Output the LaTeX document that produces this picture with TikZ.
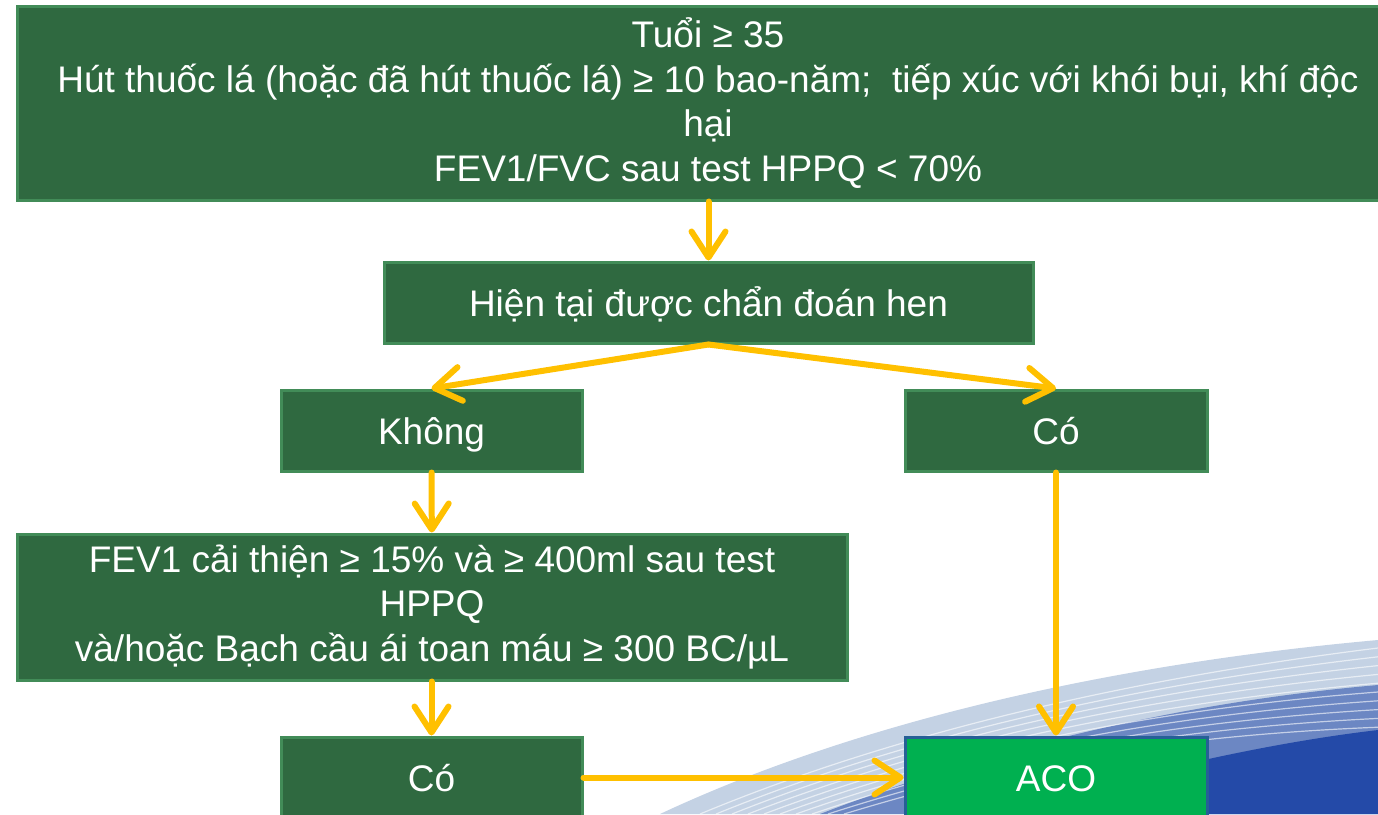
\documentclass[tikz,border=0pt]{standalone}
\usepackage{fontspec}
\setmainfont{Liberation Sans}
\usetikzlibrary{arrows.meta,positioning}
\definecolor{boxgreen}{RGB}{47,105,64}
\definecolor{boxedge}{RGB}{66,140,88}
\definecolor{acogreen}{RGB}{0,176,80}
\definecolor{acoedge}{RGB}{38,96,150}
\definecolor{arrowgold}{RGB}{255,192,0}
\definecolor{wavedark}{RGB}{36,74,168}
\definecolor{wavelight}{RGB}{196,210,228}

\begin{document}
\begin{tikzpicture}
        [
            x=1pt, y=-1pt,
            line/.style = {
                draw=arrowgold,
                line width=6pt,
                line cap=round,
                -{Straight Barb[length=26pt,width=34pt,line cap=round,round]}
            },
            block/.style = {
                rectangle,
                draw=boxedge,
                line width=3pt,
                fill=boxgreen,
                text=white,
                align=center,
                inner sep=0pt,
                font=\fontsize{37}{44.5}\selectfont
            },
            oneline/.style = {
                block,
                text height=31pt,
                text depth=4pt
            },
            result/.style = {
                oneline,
                draw=acoedge,
                fill=acogreen
            },
            waveline/.style = {
                draw=white,
                line width=1.2pt,
                opacity=0.6
            }
        ]
        \useasboundingbox (0,0) rectangle (1378,814);

        % background swoosh
        \fill[wavelight] (660,814) .. controls (850,725) and (1100,665) .. (1378,640) -- (1378,814) -- cycle;
        \fill[wavedark!55!wavelight] (820,814) .. controls (960,760) and (1150,705) .. (1378,685) -- (1378,814) -- cycle;
        \fill[wavedark] (1000,814) .. controls (1110,780) and (1250,745) .. (1378,730) -- (1378,814) -- cycle;
        \foreach \d in {0,8,...,72} {
            \path[waveline] (700+\d*2,814) .. controls (890+\d,735+\d*0.6) and (1120,680+\d*0.8) .. (1378,648+\d*1.1);
        }

        \node[block,minimum width=1382pt,minimum height=194pt] (entry) at (708,103)
            {Tuổi ≥ 35\\ Hút thuốc lá (hoặc đã hút thuốc lá) ≥ 10 bao-năm;~ tiếp xúc với khói bụi, khí độc\\ hại\\ FEV1/FVC sau test HPPQ < 70\%};
        \node[oneline,minimum width=649pt,minimum height=81pt] (asthma) at (708.5,302.5) {Hiện tại được chẩn đoán hen};
        \node[oneline,minimum width=301pt,minimum height=81pt] (khong) at (431.5,430.5) {Không};
        \node[oneline,minimum width=302pt,minimum height=81pt] (coright) at (1056,430.5) {Có};
        \node[block,minimum width=830pt,minimum height=146pt] (reversib) at (432,607)
            {FEV1 cải thiện ≥ 15\% và ≥ 400ml sau test\\ HPPQ\\ và/hoặc Bạch cầu ái toan máu ≥ 300 BC/µL};
        \node[oneline,minimum width=301pt,minimum height=81pt] (coleft) at (431.5,777.5) {Có};
        \node[result,minimum width=302pt,minimum height=81pt] (aco) at (1056,777.5) {ACO};

        \path[line] (entry.south -| asthma) -- (asthma);
        \path[line] (asthma.south) -- (khong.north);
        \path[line] (asthma.south) -- (coright.north);
        \path[line] (khong) -- (reversib);
        \path[line] (reversib.south -| coleft) -- (coleft);
        \path[line] (coright) -- (aco);
        \path[line] (coleft) -- (aco);
\end{tikzpicture}
\end{document}
